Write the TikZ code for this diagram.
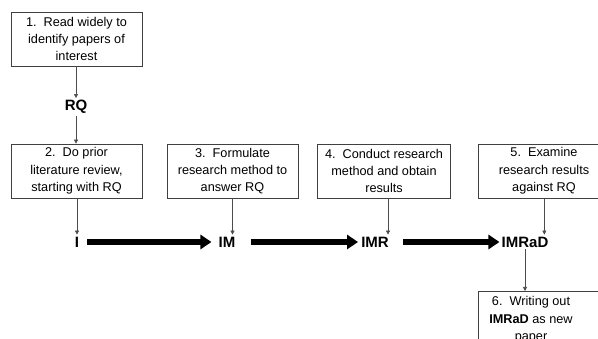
\documentclass[tikz,border=0pt]{standalone}
\usepackage{fontspec}
\setmainfont{Liberation Sans}
\usetikzlibrary{arrows.meta}
\begin{document}
\begin{tikzpicture}[x=1pt,y=-1pt,
  stepbox/.style={draw=black!75, line width=0.7pt, minimum height=54pt, inner sep=0pt, align=center, font=\fontsize{12.7}{17.3}\selectfont},
  boxtext/.style={inner sep=0pt, align=center, font=\fontsize{12.7}{17.3}\selectfont},
  lab/.style={font=\fontsize{15}{18}\selectfont\bfseries, inner sep=2pt},
  thinarrow/.style={draw=black!70, line width=0.6pt, -{Triangle[length=4pt,width=4pt]}},
  fatarrow/.style={line width=6pt, -{Triangle[length=11pt,width=14pt]}}]
\useasboundingbox (0,0) rectangle (598,339);
\clip (0,0) rectangle (598,339);

% boxes
\node[stepbox, minimum width=131pt] (b1) at (76.5,39) {1.\ \ Read widely to\\identify papers of\\interest};
\node[stepbox, minimum width=131pt] (b2) at (76.5,171) {2.\ \ Do prior\\literature review,\\starting with RQ};
\node[stepbox, minimum width=131pt] (b3) at (232.5,171) {3.\ \ Formulate\\research method to\\answer RQ};
\node[stepbox, minimum width=133pt] (b4) at (384,171) {4.\ \ Conduct research\\method and obtain\\results};
\node[stepbox, minimum width=132pt, anchor=north west] (b5) at (478,144) {};
\node[boxtext] (t5) at (544,171) {5.\ \ Examine\\research results\\against RQ};
\node[stepbox, minimum width=132pt, anchor=north west] (b6) at (478,291) {};
\node[boxtext] (t6) at (531,320) {6.\ \ Writing out\\\textbf{IMRaD} as new\\paper};

% labels
\node[lab] (rq) at (76,107) {RQ};
\node[lab] (i) at (77,242) {I};
\node[lab] (im) at (227,242) {IM};
\node[lab] (imr) at (375,242) {IMR};
\node[lab] (imrad) at (525,242) {IMRaD};

% thin connectors
\draw[thinarrow] (b1.south -| rq) -- (rq.north);
\draw[thinarrow] (rq.south) -- (b2.north -| rq);
\draw[thinarrow] (b2.south -| i) -- (i.north);
\draw[thinarrow] (b3.south) -- (b3.south |- im.north);
\draw[thinarrow] ([xshift=4pt]b4.south) -- ([xshift=4pt]b4.south |- imr.north);
\draw[thinarrow] (b5.south) -- (b5.south |- imrad.north);
\draw[thinarrow] (imrad.south) -- (imrad.south |- b6.north);

% thick arrows
\draw[fatarrow, shorten <=6pt, shorten >=5pt] (i.east) -- (im.west);
\draw[fatarrow, shorten <=13pt, shorten >=1pt] (im.east) -- (imr.west);
\draw[fatarrow, shorten <=12pt, shorten >=0pt] (imr.east) -- (imrad.west);
\end{tikzpicture}
\end{document}
